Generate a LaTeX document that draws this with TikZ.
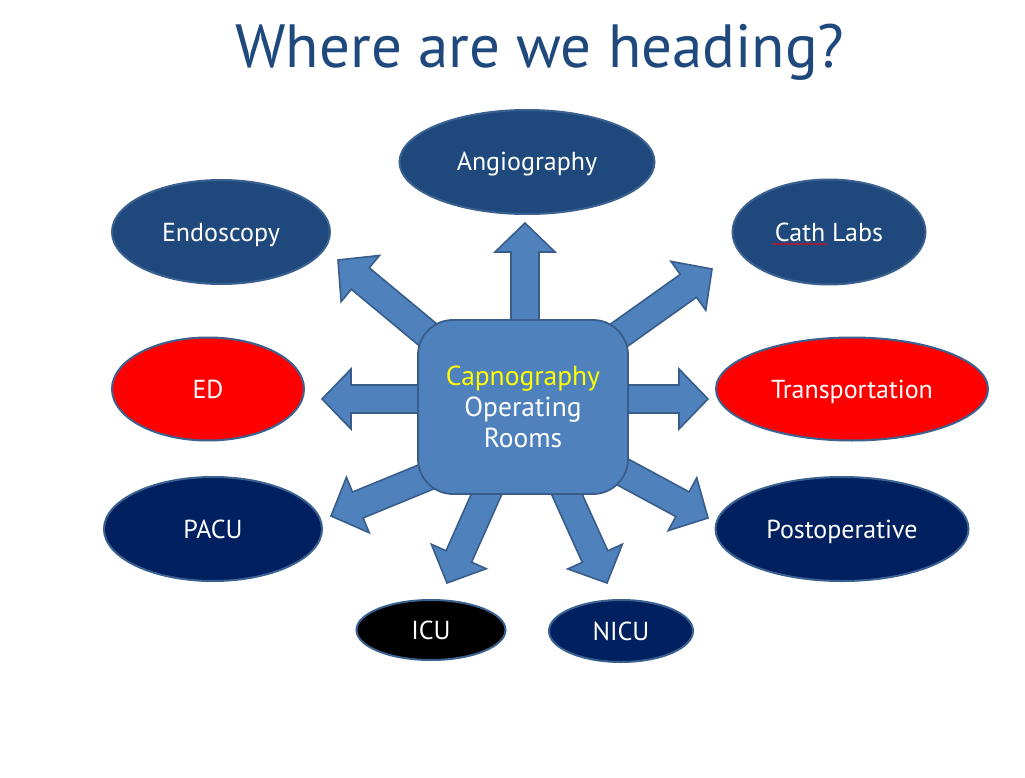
\documentclass[tikz,border=0pt]{standalone}
\usepackage{fontspec}
\setmainfont{PT Sans}
\usetikzlibrary{calc,shapes.geometric,decorations.pathmorphing}
\definecolor{titulo}{HTML}{1F497D}
\definecolor{azulf}{HTML}{4F81BD}
\definecolor{azulb}{HTML}{385D8A}
\definecolor{oscuro}{HTML}{1F497D}
\definecolor{marino}{HTML}{002060}
\definecolor{rojo}{HTML}{FF0000}
\definecolor{borde}{HTML}{3B6190}
\definecolor{amarillo}{HTML}{FFFF00}
% flecha ancha de #1 a #2 (la punta en #2)
\newcommand{\ancha}[2]{%
  \coordinate (hb) at ($(#2)!29pt!(#1)$);
  \draw[bloque] ($(#1)!14pt!90:(#2)$) -- ($(hb)!14pt!90:(#2)$) -- ($(hb)!30pt!90:(#2)$) -- (#2)
    -- ($(hb)!30pt!-90:(#2)$) -- ($(hb)!14pt!-90:(#2)$) -- ($(#1)!14pt!-90:(#2)$) -- cycle;}

\begin{document}
\begin{tikzpicture}[x=1pt,y=-1pt,
    ovalo/.style={ellipse,draw=borde,line width=2pt,text=white,inner sep=0pt,
      text height=18pt,text depth=0pt,font=\fontsize{26}{30}\selectfont},
    bloque/.style={fill=azulf,draw=azulb,line width=1.6pt,line join=miter},
    centro/.style={rectangle,rounded corners=35pt,fill=azulf,draw=azulb,line width=1.8pt,
      minimum width=210pt,minimum height=174pt,align=center,text=white,
      font=\fontsize{27.5}{31}\selectfont}]
  \fill[white] (0,0) rectangle (1025,778);
  \useasboundingbox (0,0) rectangle (1025,778);
  \node[anchor=base,text=titulo,font=\fontsize{61}{70}\selectfont] (title) at (540,68) {Where are we heading?};
  % salidas (bajo el cuadro) y puntas
  \coordinate (oN) at (525,360);   \coordinate (tN) at (525,223);
  \coordinate (oW) at (470,399);   \coordinate (tW) at (322,399);
  \coordinate (oE) at (580,399);   \coordinate (tE) at (708,399);
  \coordinate (oNW) at (492,388);  \coordinate (tNW) at (338,260);
  \coordinate (oNE) at (549,385);  \coordinate (tNE) at (712,269);
  \coordinate (oSW) at (516,440);  \coordinate (tSW) at (331,516);
  \coordinate (oSE) at (532,423);  \coordinate (tSE) at (708,518);
  \coordinate (oS1) at (508,446);  \coordinate (tS1) at (447,583);
  \coordinate (oS2) at (545,446);  \coordinate (tS2) at (607,583);
  \foreach \d in {N,W,E,NW,NE,SW,SE,S1,S2}
    \ancha{o\d}{t\d};
  \node[centro] (core) at (523,407) {\textcolor{amarillo}{Capnography}\\Operating\\Rooms};
  % destinos
  \node[ovalo,fill=oscuro,minimum width=255pt,minimum height=104pt] (angio) at (527,162) {Angiography};
  \node[ovalo,fill=oscuro,minimum width=218pt,minimum height=104pt] (endo) at (221,232) {Endoscopy};
  \node[ovalo,fill=oscuro,minimum width=193pt,minimum height=105pt] (cath) at (829,232) {Cath Labs};
  \node[ovalo,fill=rojo,minimum width=192pt,minimum height=103pt] (ed) at (208,389) {ED};
  \node[ovalo,fill=rojo,minimum width=272pt,minimum height=103pt] (trans) at (852,389) {Transportation};
  \node[ovalo,fill=marino,minimum width=218pt,minimum height=104pt] (pacu) at (213,529) {PACU};
  \node[ovalo,fill=marino,minimum width=253pt,minimum height=104pt] (postop) at (842,529) {Postoperative};
  \node[ovalo,fill=black,minimum width=149pt,minimum height=60pt] (icu) at (431,630) {ICU};
  \node[ovalo,fill=marino,minimum width=144pt,minimum height=62pt] (nicu) at (621,631) {NICU};
  % subrayado del corrector
  \draw[red,line width=0.6pt,decorate,decoration={snake,amplitude=0.8pt,segment length=3pt}]
    ([shift={(-57,12)}]cath.center) -- ([shift={(-2,12)}]cath.center);
\end{tikzpicture}
\end{document}
